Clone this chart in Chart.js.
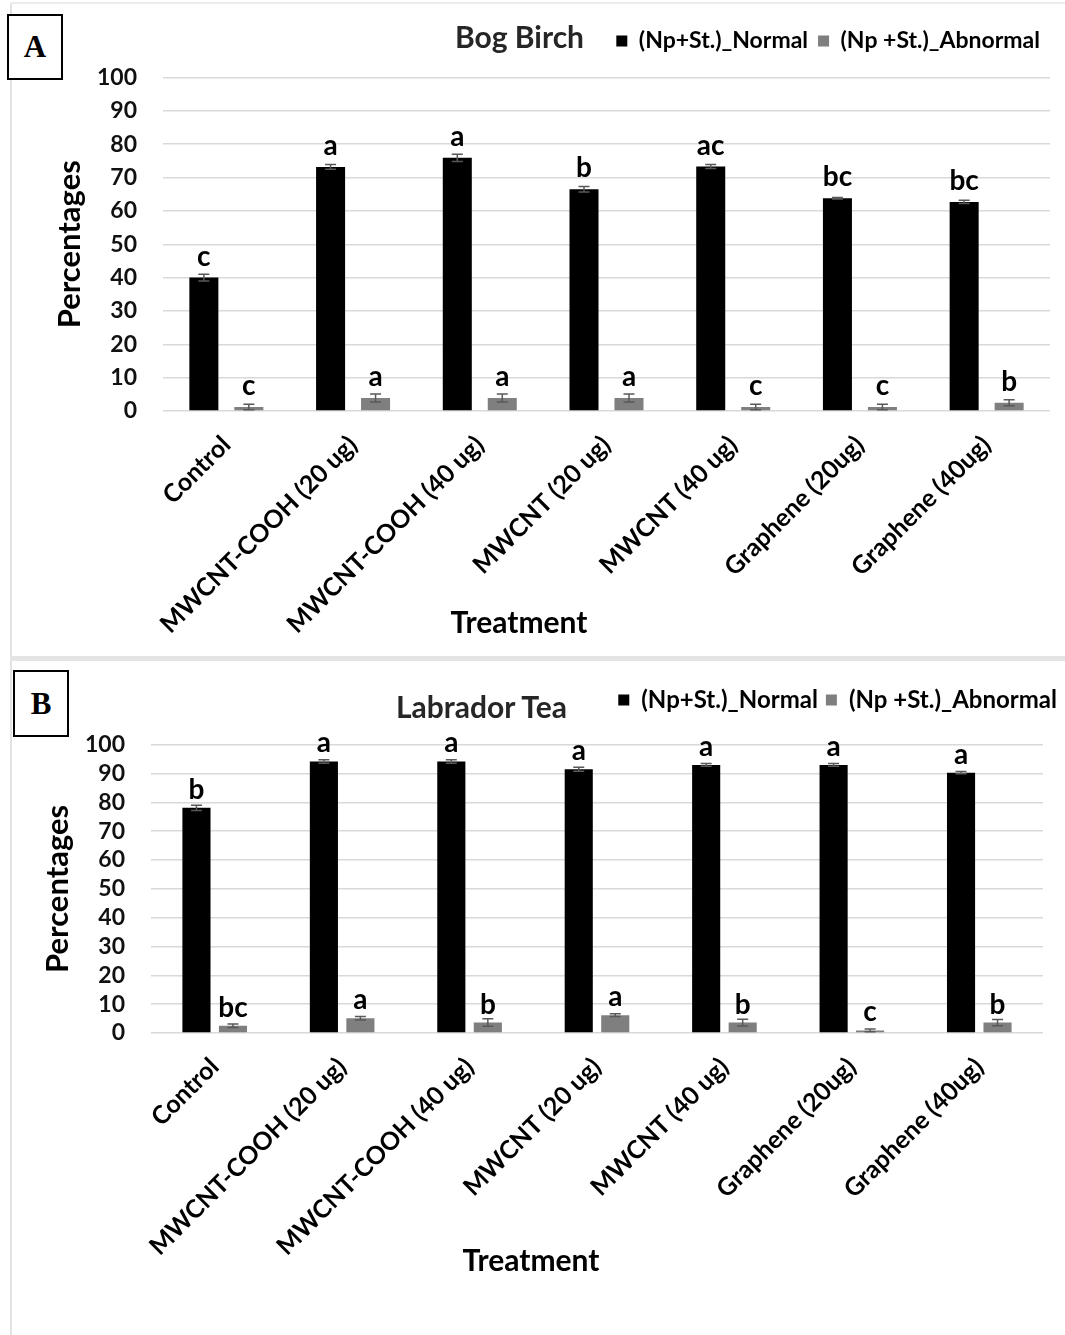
<!DOCTYPE html>
<html>
<head>
<meta charset="utf-8">
<title>Bog Birch and Labrador Tea – normal and abnormal percentages</title>
<script src="https://cdn.jsdelivr.net/npm/chart.js@4.4.1/dist/chart.umd.min.js"></script>
<style>
  html, body { margin: 0; padding: 0; background: #fff; }
  body { width: 1065px; height: 1335px; position: relative; overflow: hidden; font-family: Lato, "Open Sans", sans-serif; }
  canvas { position: absolute; left: 0; }
  #chartA { top: 0; }
  #chartB { top: 662px; }
  .frame-left { position: absolute; left: 10px; top: 2px; width: 2px; height: 1333px; background: #e3e3e3; }
  .frame-top { position: absolute; left: 10px; top: 2px; right: 0; height: 2px; background: #ececec; }
  .sep { position: absolute; left: 10px; right: 0; top: 656px; height: 5px; background: #e4e4e4; }
  .tag { position: absolute; box-sizing: border-box; width: 56px; height: 66px; border: 2px solid #000; background: #fff;
         font: bold 31px "Liberation Serif", "DejaVu Serif", serif; display: flex; align-items: center; justify-content: center; }
  .ttl { position: absolute; font-weight: bold; font-size: 30px; color: #262626; white-space: nowrap; transform: translateY(-50%); }
  .xt { position: absolute; font-weight: bold; font-size: 30px; color: #000; white-space: nowrap; transform: translate(-50%, -50%); }
</style>
</head>
<body>
<div class="frame-left"></div>
<div class="frame-top"></div>
<div class="sep"></div>

<canvas id="chartA" width="1065" height="655"></canvas>
<canvas id="chartB" width="1065" height="673"></canvas>

<div class="tag" style="left:7px; top:14px;">A</div>
<div class="tag" style="left:13px; top:670px; height:67px;">B</div>

<div class="ttl" style="left:455px; top:36px;">Bog Birch</div>
<div class="ttl" style="left:396px; top:706px;">Labrador Tea</div>

<div class="xt" style="left:519px; top:621px;">Treatment</div>
<div class="xt" style="left:531px; top:1259px;">Treatment</div>

<script>
// Treatments along the x axis
const categories = [
  'Control',
  'MWCNT-COOH (20 ug)',
  'MWCNT-COOH (40 ug)',
  'MWCNT (20 ug)',
  'MWCNT (40 ug)',
  'Graphene (20ug)',
  'Graphene (40ug)'
];
const seriesNames = ['(Np+St.)_Normal', '(Np +St.)_Abnormal'];
const seriesColors = ['#000000', '#7f7f7f'];

// Bog Birch
const birchNormal        = [40.0, 73.2, 75.9, 66.5, 73.3, 63.8, 62.7];
const birchNormalErr     = [1.0, 0.7, 1.1, 0.8, 0.6, 0.2, 0.5];
const birchNormalGroups  = ['c', 'a', 'a', 'b', 'ac', 'bc', 'bc'];
const birchAbnormal      = [1.2, 3.9, 3.9, 3.9, 1.2, 1.2, 2.5];
const birchAbnormalErr   = [0.8, 1.2, 1.2, 1.2, 0.8, 0.8, 0.9];
const birchAbnormalGroups = ['c', 'a', 'a', 'a', 'c', 'c', 'b'];

// Labrador Tea
const teaNormal          = [78.1, 94.2, 94.2, 91.5, 93.0, 93.0, 90.3];
const teaNormalErr       = [0.9, 0.6, 0.6, 0.7, 0.5, 0.5, 0.4];
const teaNormalGroups    = ['b', 'a', 'a', 'a', 'a', 'a', 'a'];
const teaAbnormal        = [2.5, 5.1, 3.6, 6.2, 3.6, 0.9, 3.6];
const teaAbnormalErr     = [0.6, 0.6, 1.3, 0.5, 1.2, 0.5, 1.1];
const teaAbnormalGroups  = ['bc', 'a', 'b', 'a', 'b', 'c', 'b'];

// Percentage axis
const yMin = 0, yMax = 100, yStep = 10;

Chart.defaults.font.family = 'Lato, "Open Sans", sans-serif';

// Error bars and significance letters drawn on top of each bar
const barMarks = {
  id: 'barMarks',
  afterDatasetsDraw(chart, args, opts) {
    const ctx = chart.ctx;
    const y = chart.scales.y;
    chart.data.datasets.forEach((ds, i) => {
      const meta = chart.getDatasetMeta(i);
      if (meta.hidden) return;
      meta.data.forEach((bar, j) => {
        const v = ds.data[j];
        const e = ds.errors[j];
        const yHi = y.getPixelForValue(v + e);
        const yLo = y.getPixelForValue(Math.max(v - e, 0));
        const half = opts.cap / 2;
        ctx.save();
        ctx.strokeStyle = opts.errorColor;
        ctx.lineWidth = 1.5;
        ctx.beginPath();
        ctx.moveTo(bar.x, yHi); ctx.lineTo(bar.x, yLo);
        ctx.moveTo(bar.x - half, yHi); ctx.lineTo(bar.x + half, yHi);
        ctx.moveTo(bar.x - half, yLo); ctx.lineTo(bar.x + half, yLo);
        ctx.stroke();
        ctx.fillStyle = '#000';
        ctx.font = 'bold 28px Lato, "Open Sans", sans-serif';
        ctx.textAlign = 'center';
        ctx.textBaseline = 'alphabetic';
        ctx.fillText(ds.groups[j], bar.x, y.getPixelForValue(v) - opts.gap);
        ctx.restore();
      });
    });
  }
};

function buildChart(id, o) {
  const hidden = {
    display: true,
    grid: { display: false },
    border: { display: false },
    ticks: { display: false }
  };
  const scales = {
    x: {
      type: 'category',
      position: 'bottom',
      grid: { display: false },
      border: { display: false },
      ticks: {
        autoSkip: false, minRotation: 45, maxRotation: 45, padding: 11,
        color: '#000', font: { size: 25, weight: 'bold' }
      },
      afterFit: s => { s.height = o.xHeight; }
    },
    y: {
      type: 'linear',
      position: 'left',
      min: yMin, max: yMax,
      ticks: { stepSize: yStep, autoSkip: false, padding: 26, color: '#111', font: { size: 23, weight: 'bold' } },
      grid: { color: '#d9d9d9', lineWidth: 1.5, drawTicks: false },
      border: { display: false },
      title: {
        display: true, text: 'Percentages', color: '#000',
        font: { size: 31, weight: 'bold' },
        padding: { top: o.yTitlePad, bottom: 0 }
      },
      afterFit: s => { s.width = o.yWidth; }
    },
    xTop: Object.assign({ type: 'linear', position: 'top', afterFit: s => { s.height = o.topGap; } }, hidden)
  };
  if (o.rightGap) {
    scales.yRight = Object.assign({ type: 'linear', position: 'right', afterFit: s => { s.width = o.rightGap; } }, hidden);
  }
  const ds = (k) => ({
    label: seriesNames[k],
    data: o.values[k],
    errors: o.errors[k],
    groups: o.groups[k],
    backgroundColor: seriesColors[k],
    borderWidth: 0,
    xAxisID: 'x', yAxisID: 'y',
    categoryPercentage: o.catPct,
    barPercentage: o.barPct
  });
  return new Chart(document.getElementById(id), {
    type: 'bar',
    data: { labels: categories, datasets: [ds(0), ds(1)] },
    options: {
      responsive: false,
      animation: false,
      layout: { padding: o.padding },
      plugins: {
        title: { display: false },
        tooltip: { enabled: false },
        legend: {
          position: 'top', align: 'end', fullSize: o.legendFull,
          labels: {
            boxWidth: 11, boxHeight: 11, padding: o.legendGap, color: '#000',
            font: { size: o.legendSize, weight: 'bold' }
          }
        },
        barMarks: { gap: o.letterGap, cap: 11, errorColor: '#595959' }
      },
      scales
    },
    plugins: [barMarks]
  });
}

buildChart('chartA', {
  values: [birchNormal, birchAbnormal],
  errors: [birchNormalErr, birchAbnormalErr],
  groups: [birchNormalGroups, birchAbnormalGroups],
  padding: { top: 19.5, left: 0, right: 15, bottom: 0 },
  legendFull: false, legendGap: 10, legendSize: 23,
  topGap: 15, yWidth: 163, xHeight: 244, yTitlePad: 51,
  catPct: 0.71, barPct: 0.645, letterGap: 12
});

buildChart('chartB', {
  values: [teaNormal, teaAbnormal],
  errors: [teaNormalErr, teaAbnormalErr],
  groups: [teaNormalGroups, teaAbnormalGroups],
  padding: { top: 18, left: 0, right: 0, bottom: 0 },
  legendFull: true, legendGap: 8, legendSize: 24,
  topGap: 22.7, rightGap: 22, yWidth: 151, xHeight: 302, yTitlePad: 39,
  catPct: 0.573, barPct: 0.77, letterGap: 9
});
</script>
</body>
</html>
